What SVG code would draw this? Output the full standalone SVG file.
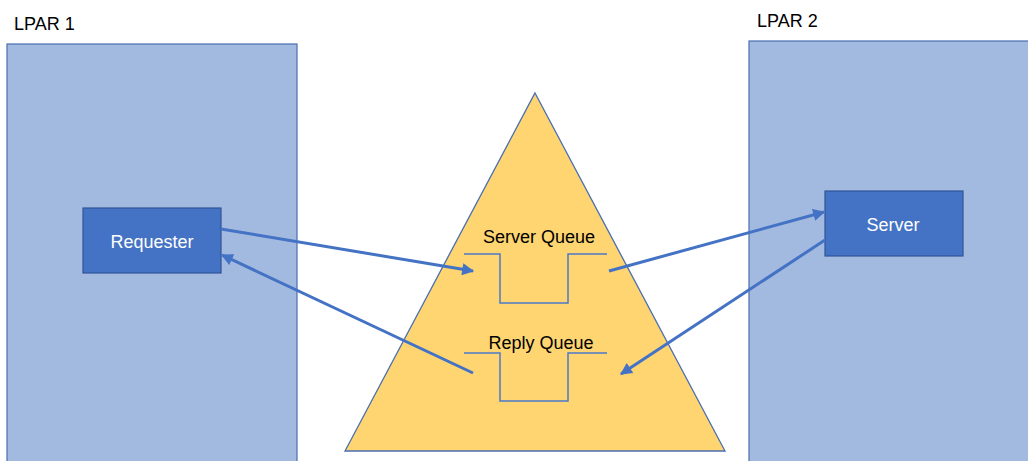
<svg xmlns="http://www.w3.org/2000/svg" width="1028" height="461" viewBox="0 0 1028 461">
<style>
.lpar{fill:#A3BAE0;stroke:#4A6EB0;stroke-width:1.2}
.box{fill:#4472C4;stroke:#2F5597;stroke-width:1.2}
.q{fill:none;stroke:#4A78C8;stroke-width:1.5}
.conn{stroke:#4472C4;stroke-width:3;fill:none;marker-end:url(#ah)}
.lbl{font-family:"Liberation Sans",Arial,sans-serif;font-size:18px;fill:#000}
.wt{font-family:"Liberation Sans",Arial,sans-serif;font-size:18px;fill:#fff;text-anchor:middle}
.qt{font-family:"Liberation Sans",Arial,sans-serif;font-size:18px;fill:#000;text-anchor:middle}
</style>
<defs>
<marker id="ah" viewBox="0 0 10 10" refX="9" refY="5" markerWidth="4.2" markerHeight="4" orient="auto" markerUnits="strokeWidth">
<path d="M0,0 L10,5 L0,10 z" fill="#4472C4"/>
</marker>
</defs>
<rect width="1028" height="461" fill="#fff"/>
<g id="lpar1">
<rect class="lpar" x="7" y="44" width="290" height="430"/>
<text class="lbl" x="14" y="30">LPAR 1</text>
</g>
<g id="lpar2">
<rect class="lpar" x="749" y="41" width="300" height="430"/>
<text class="lbl" x="757" y="27">LPAR 2</text>
</g>
<g id="queue-manager">
<polygon points="535,93 725,451 345,451" fill="#FED571" stroke="#4A6EB0" stroke-width="1.3"/>
</g>
<g id="server-queue">
<polyline class="q" points="464,254 500,254 500,303 568,303 568,254 607,254"/>
<text class="qt" x="539" y="243">Server Queue</text>
</g>
<g id="reply-queue">
<polyline class="q" points="464,353 500,353 500,401 568,401 568,353 607,353"/>
<text class="qt" x="541" y="349">Reply Queue</text>
</g>
<g id="requester">
<rect class="box" x="83" y="208" width="138" height="65"/>
<text class="wt" x="152" y="248">Requester</text>
</g>
<g id="server">
<rect class="box" x="825" y="191" width="138" height="65"/>
<text class="wt" x="893" y="231">Server</text>
</g>
<g id="connectors">
<line class="conn" x1="221" y1="229" x2="473" y2="271"/>
<line class="conn" x1="473" y1="373" x2="222" y2="255"/>
<line class="conn" x1="609" y1="271" x2="824" y2="212"/>
<line class="conn" x1="825" y1="240" x2="621" y2="374"/>
</g>
</svg>
